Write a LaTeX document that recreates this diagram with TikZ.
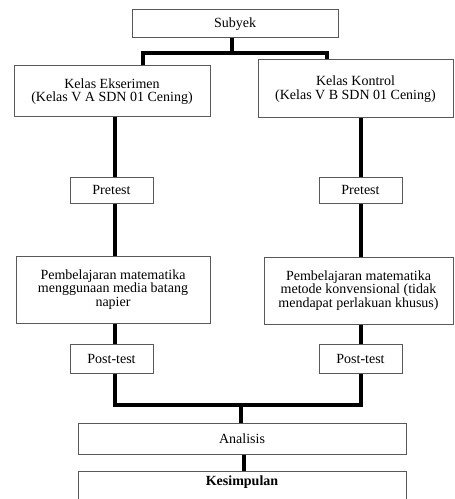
\documentclass[tikz,border=0pt]{standalone}
\usepackage{fontspec}
\setmainfont{Liberation Serif}
\usepackage{tikz}
\usetikzlibrary{positioning, calc}
\tikzset{
	box/.style={draw=black!65, line width=0.75pt, fill=white, align=center, inner sep=2pt, font=\fontsize{10.5}{10}\selectfont},
	size/.style 2 args={minimum width=#1*0.75pt, minimum height=#2*0.75pt},
	link/.style={line width=3pt, black},
}

\begin{document}
\begin{tikzpicture}[x=0.75pt, y=-0.75pt]
	\useasboundingbox (0,0) rectangle (454,499);

	\node[box, size={206}{28}] (subyek) at (235,24) {Subyek};

	\node[box, size={196}{51}] (eks) at (112,91.5) {Kelas Ekserimen\\(Kelas V A SDN 01 Cening)};
	\node[box, size={195}{58}] (kon) at (355.5,89) {Kelas Kontrol\\(Kelas V B SDN 01 Cening)};

	\node[box, size={83}{26}] (pre1) at (111.5,190) {Pretest};
	\node[box, size={83}{26}] (pre2) at (360.5,190) {Pretest};

	\node[box, size={194}{67}] (pem1) at (113,289.5) {Pembelajaran matematika\\menggunaan media batang\\napier};
	\node[box, size={189}{67}] (pem2) at (358.5,290.5) {Pembelajaran matematika\\metode konvensional (tidak\\mendapat perlakuan khusus)};

	\node[box, size={83}{29}] (post1) at (111.5,358.5) {Post-test};
	\node[box, size={83}{29}] (post2) at (360.5,358.5) {Post-test};

	\node[box, size={328}{31}] (analisis) at (242,438.5) {Analisis};
	\node[box, size={328}{10}, text depth=15pt, inner ysep=3pt, anchor=north] (kesimpulan) at (242,471) {\textbf{Kesimpulan}};

	% split and join points
	\coordinate (tl) at (143,53);
	\coordinate (tr) at (327,53);
	\coordinate (cl) at (114.5,0);
	\coordinate (cr) at (361,0);
	\coordinate (bj) at (240.5,405);

	\draw[link] (subyek.south -| 232,0) -- (tl -| 232,0);
	\draw[link] (eks.north -| tl) -- (tl) -- (tr) -- (kon.north -| tr);

	\draw[link] (eks.south -| cl) -- (pre1.north -| cl);
	\draw[link] (pre1.south -| cl) -- (pem1.north -| cl);
	\draw[link] (pem1.south -| cl) -- (post1.north -| cl);
	\draw[link] (kon.south -| cr) -- (pre2.north -| cr);
	\draw[link] (pre2.south -| cr) -- (pem2.north -| cr);
	\draw[link] (pem2.south -| cr) -- (post2.north -| cr);

	\draw[link] (post1.south -| cl) -- (bj -| cl) -- (bj -| cr) -- (post2.south -| cr);
	\draw[link] (bj) -- (analisis.north -| bj);
	\draw[link] (analisis.south -| 243.5,0) -- (kesimpulan.north -| 243.5,0);
\end{tikzpicture}
\end{document}
